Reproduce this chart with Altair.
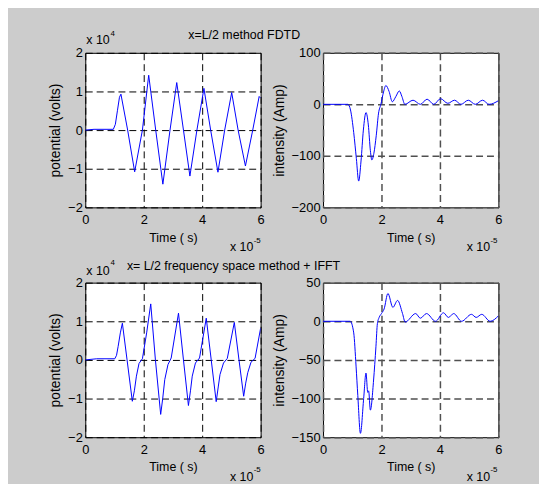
import altair as alt
import pandas as pd

FONT = "Liberation Sans"

# time axis values are in units of 1e-5 s
# --- x = L/2, FDTD: potential (units of 1e4 V)
t_pot_fdtd = [0, 0.3, 0.96, 1.03, 1.10, 1.17, 1.22, 1.45, 1.69, 1.955, 2.17, 2.41, 2.655, 2.90,
              3.13, 3.36, 3.58, 3.82, 4.06, 4.29, 4.54, 4.77, 5.01, 5.23, 5.48, 5.73, 5.95, 6.0]
pot_fdtd = [0, 0.02, 0.02, 0.15, 0.5, 0.85, 0.93, 0.0, -1.08, 0.0, 1.42, 0.0, -1.40, 0.0,
            1.23, 0.0, -1.19, 0.0, 1.08, 0.0, -1.09, 0.0, 0.97, 0.0, -0.93, 0.0, 0.87, 0.83]

# --- x = L/2, FDTD: intensity (A)
t_int_fdtd = [0, 0.85, 0.94, 1.05, 1.14, 1.22, 1.30, 1.38, 1.47, 1.55, 1.62, 1.67, 1.74, 1.82,
              1.90, 1.98, 2.07, 2.15, 2.26, 2.37, 2.49, 2.61, 2.70, 2.80, 3.08, 3.33, 3.56, 3.79,
              4.02, 4.27, 4.50, 4.72, 4.97, 5.21, 5.46, 5.68, 6.0]
int_fdtd = [0, 0, -11, -55, -105, -149, -110, -50, -16, -40, -90, -108, -95, -61,
            -17, 0, 24, 36.5, 25, 5, 15, 26, 15, 0, 8, 0, 10, 0,
            11, 2, 8, 0, 8, 0, 8, 0, 7]

# --- x = L/2, frequency space + IFFT: potential (units of 1e4 V)
t_pot_ifft = [0, 0.39, 1.01, 1.07, 1.125, 1.2, 1.27, 1.43, 1.61, 1.68, 1.75, 1.84, 1.955, 2.1,
              2.24, 2.40, 2.58, 2.65, 2.72, 2.83, 2.94, 3.19, 3.36, 3.53, 3.60, 3.66, 3.77,
              3.91, 4.14, 4.31, 4.48, 4.55, 4.61, 4.73, 4.86, 5.10, 5.26, 5.42, 5.49, 5.56,
              5.67, 5.81, 6.0]
pot_ifft = [0, 0.03, 0.03, 0.12, 0.35, 0.7, 0.95, 0.0, -1.07, -0.8, -0.42, -0.09, 0.03, 0.7,
            1.45, 0.0, -1.41, -1.0, -0.51, -0.12, 0.05, 1.21, 0.0, -1.18, -0.8, -0.42, -0.08,
            0.05, 1.08, 0.0, -1.08, -0.7, -0.38, -0.08, 0.04, 0.97, 0.0, -0.94, -0.6, -0.33,
            -0.06, 0.04, 0.82]

# --- x = L/2, frequency space + IFFT: intensity (A)
t_int_ifft = [0, 0.93, 1.05, 1.13, 1.19, 1.28, 1.39, 1.47, 1.53, 1.56, 1.62, 1.73, 1.81, 1.86,
              1.92, 2.0, 2.09, 2.22, 2.39, 2.55, 2.72, 2.81, 3.17, 3.33, 3.54, 3.85, 4.12,
              4.29, 4.47, 4.74, 5.08, 5.24, 5.43, 5.72, 6.0]
int_ifft = [0, 0, -15, -58, -96, -145, -100, -67, -92, -90, -115, -76, -33, -3,
            5, 10, 16, 36, 18, 27, 10, -1, 10, 4, 10, 0, 11,
            5, 10, 0, 9, 5, 9, 0, 7]

x_ticks = [0, 2, 4, 6]
pot_ticks = [-2, -1, 0, 1, 2]
int_fdtd_ticks = [-200, -100, 0, 100]
int_ifft_ticks = [-150, -100, -50, 0, 50]

x_title = "Time ( s)"
pot_title = "potential (volts)"
int_title = "intensity (Amp)"
title_top = "x=L/2 method FDTD"
title_bottom = "x= L/2 frequency space method + IFFT"

W, H = 177, 156


def panel(t, y, ydom, yticks, ytitle, gridc, gridw, interp, texts):
    df = pd.DataFrame({"t": t, "y": y})
    xaxis = alt.Axis(values=x_ticks, title=x_title, grid=True, gridColor=gridc,
                     gridDash=[7, 4], gridWidth=gridw, gridOpacity=1, ticks=False, domain=False,
                     labelFont=FONT, labelFontSize=13, labelColor="black", labelPadding=6,
                     labelFlush=False, labelOverlap=False, format="d",
                     titleFont=FONT, titleFontSize=12.5, titleFontWeight="normal",
                     titleColor="black", titlePadding=5)
    yaxis = alt.Axis(values=yticks, title=ytitle, grid=True, gridColor=gridc,
                     gridDash=[7, 4], gridWidth=gridw, gridOpacity=1, ticks=False, domain=False,
                     labelFont=FONT, labelFontSize=13, labelColor="black", labelPadding=3,
                     labelFlush=False, labelOverlap=False, format="d",
                     titleFont=FONT, titleFontSize=14, titleFontWeight="normal",
                     titleColor="black", titlePadding=5)
    line = alt.Chart(df).mark_line(color="#0000ff", strokeWidth=1, interpolate=interp,
                                   clip=True).encode(
        x=alt.X("t:Q", scale=alt.Scale(domain=[0, 6], nice=False, zero=False), axis=xaxis),
        y=alt.Y("y:Q", scale=alt.Scale(domain=ydom, nice=False, zero=False), axis=yaxis),
    )
    layers = [line]
    for s, px, py, size in texts:
        layers.append(
            alt.Chart(pd.DataFrame({"s": [s]})).mark_text(
                align="left", baseline="alphabetic", font=FONT, fontSize=size, color="black"
            ).encode(x=alt.value(px), y=alt.value(py), text="s:N")
        )
    return alt.layer(*layers).properties(width=W, height=H)


tl = panel(t_pot_fdtd, pot_fdtd, [-2, 2], pot_ticks, pot_title, "black", 1, "linear",
           [("x 10", 1, -9, 12.5), ("4", 25.5, -17, 8), (title_top, 104, -13.5, 12.5),
            ("x 10", 146, 200, 12.5), ("-5", 170, 191.5, 8)])
tr = panel(t_int_fdtd, int_fdtd, [-200, 100], int_fdtd_ticks, int_title, "#505050", 1.5,
           "monotone", [("x 10", 145, 200, 12.5), ("-5", 169, 191.5, 8)])
bl = panel(t_pot_ifft, pot_ifft, [-2, 2], pot_ticks, pot_title, "black", 1, "linear",
           [("x 10", 1, -7.7, 12.5), ("4", 25.5, -17.5, 8), (title_bottom, 42, -13, 12.5),
            ("x 10", 146, 200, 12.5), ("-5", 170, 191, 8)])
br = panel(t_int_ifft, int_ifft, [-150, 50], int_ifft_ticks, int_title, "#505050", 1.5,
           "monotone", [("x 10", 145, 200, 12.5), ("-5", 169, 191, 8)])

chart = alt.concat(tl, tr, bl, br, columns=2, spacing={"row": 76, "column": 63},
                   bounds="flush").properties(
    background="#cccccc",
    padding={"left": 40, "top": 19, "right": 36, "bottom": -2},
).configure_view(stroke="black", strokeWidth=1, fill="white")

chart.save("out.html", embed_options={"renderer": "svg", "actions": False})
